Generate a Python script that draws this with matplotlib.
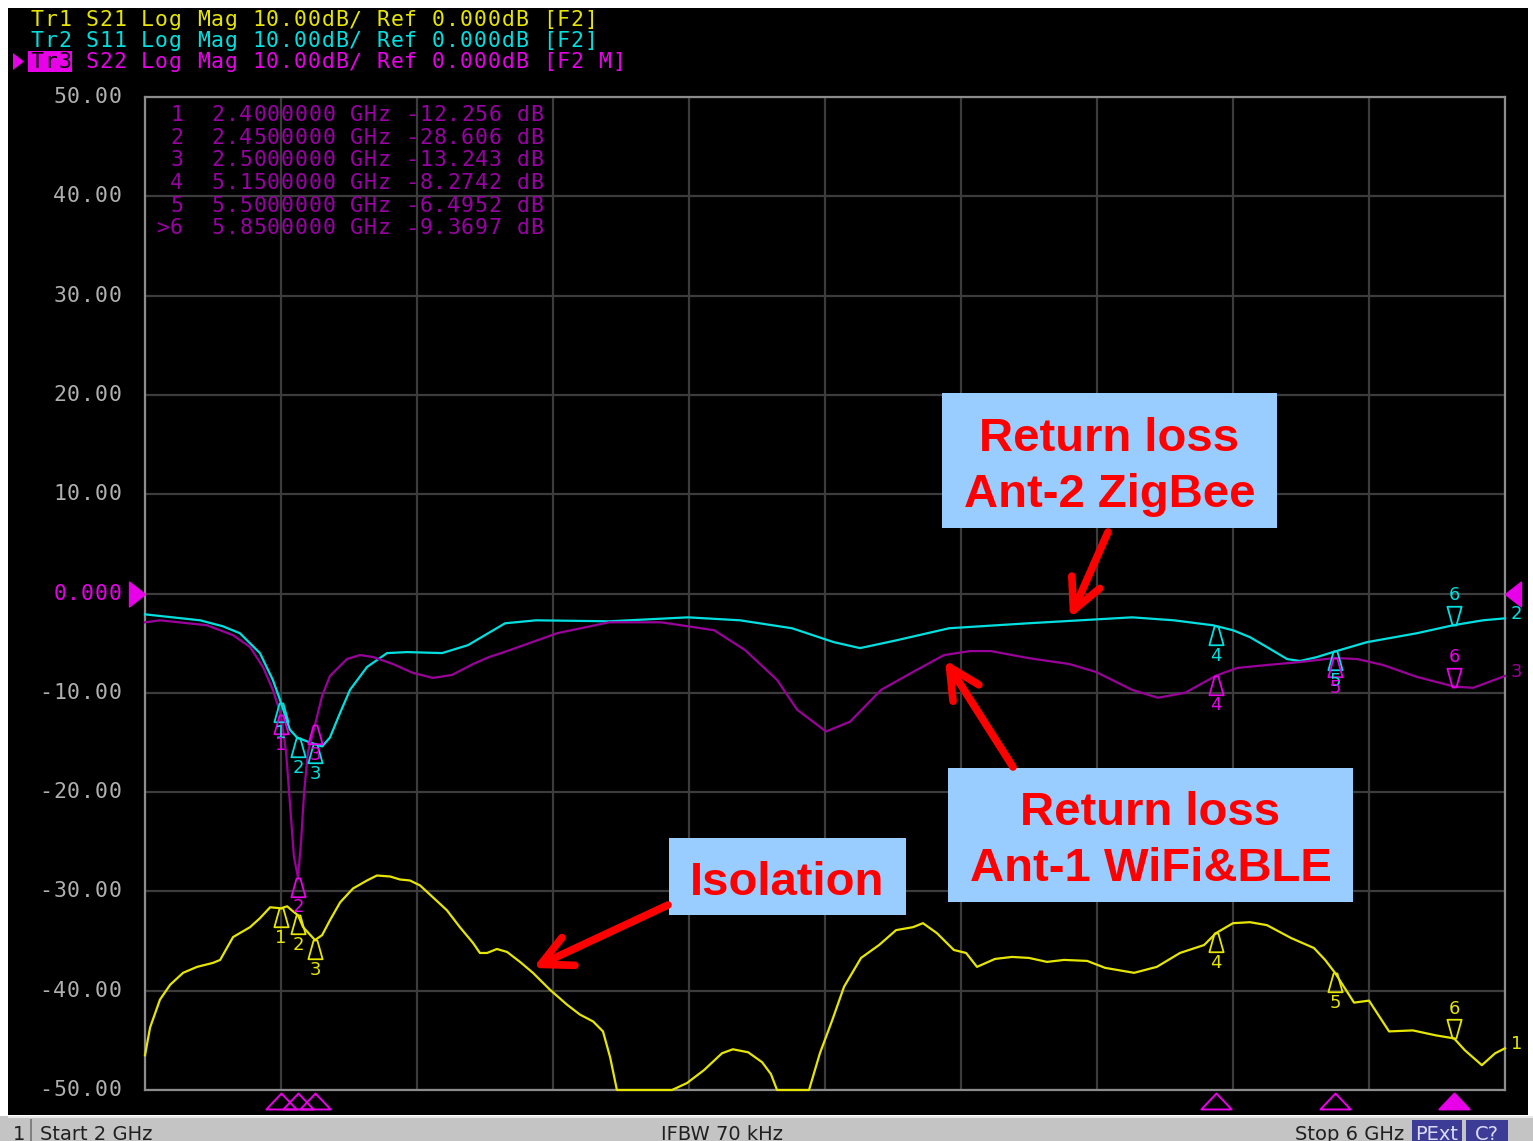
import numpy as np
import matplotlib
matplotlib.use("Agg")
import matplotlib.pyplot as plt
from matplotlib.path import Path
from matplotlib.patches import Rectangle, FancyArrowPatch, Polygon
from matplotlib.markers import MarkerStyle
import matplotlib.transforms as mtransforms

W, H = 1533, 1141

# ---------------- data ----------------
s11_freq = [2.000, 2.162, 2.229, 2.279, 2.338, 2.376, 2.397, 2.426, 2.447, 2.485, 2.521, 2.544,
            2.574, 2.603, 2.653, 2.712, 2.771, 2.874, 2.950, 3.059, 3.150, 3.365, 3.597, 3.750,
            3.903, 4.026, 4.103, 4.212, 4.365, 4.597, 4.750, 4.903, 5.026, 5.141, 5.200, 5.250,
            5.300, 5.359, 5.397, 5.447, 5.494, 5.594, 5.741, 5.847, 5.935, 6.000]
s11_db = [-2.1, -2.7, -3.3, -4.0, -6.0, -8.7, -10.7, -13.7, -14.5, -15.0, -15.4, -14.5,
          -12.0, -9.7, -7.4, -6.0, -5.9, -6.0, -5.2, -3.0, -2.7, -2.8, -2.4, -2.7,
          -3.5, -4.9, -5.5, -4.7, -3.5, -3.0, -2.7, -2.4, -2.7, -3.2, -3.7, -4.4,
          -5.4, -6.6, -6.8, -6.4, -5.9, -4.9, -4.0, -3.2, -2.7, -2.5]

s22_freq = [2.000, 2.044, 2.182, 2.259, 2.309, 2.347, 2.376, 2.400, 2.415, 2.426, 2.438, 2.450,
            2.459, 2.468, 2.479, 2.500, 2.521, 2.544, 2.594, 2.632, 2.671, 2.729, 2.788, 2.847,
            2.903, 2.965, 3.012, 3.065, 3.212, 3.365, 3.518, 3.674, 3.765, 3.859, 3.918, 4.003,
            4.074, 4.165, 4.259, 4.350, 4.426, 4.488, 4.597, 4.718, 4.797, 4.903, 4.979, 5.059,
            5.150, 5.212, 5.300, 5.397, 5.500, 5.565, 5.641, 5.741, 5.850, 5.906, 6.000]
s22_db = [-2.9, -2.7, -3.2, -4.2, -5.4, -7.4, -9.7, -12.256, -16.0, -21.0, -26.5, -28.606,
          -25.0, -20.0, -16.0, -13.243, -10.3, -8.3, -6.6, -6.2, -6.4, -7.1, -8.0, -8.5,
          -8.2, -7.1, -6.4, -5.8, -4.0, -2.9, -2.9, -3.7, -5.7, -8.7, -11.7, -13.9,
          -12.9, -9.7, -7.9, -6.2, -5.8, -5.8, -6.5, -7.1, -7.9, -9.7, -10.5, -10.0,
          -8.2742, -7.5, -7.2, -6.9, -6.4952, -6.6, -7.2, -8.4, -9.3697, -9.5, -8.3]

s21_freq = [2.000, 2.015, 2.044, 2.074, 2.112, 2.153, 2.200, 2.221, 2.259, 2.309, 2.338, 2.368,
            2.400, 2.418, 2.435, 2.450, 2.465, 2.500, 2.521, 2.544, 2.574, 2.612, 2.653, 2.682,
            2.721, 2.750, 2.779, 2.809, 2.847, 2.888, 2.926, 2.965, 2.985, 3.006, 3.035, 3.065,
            3.103, 3.141, 3.191, 3.241, 3.279, 3.318, 3.347, 3.368, 3.388, 3.550, 3.594, 3.644,
            3.697, 3.729, 3.774, 3.815, 3.841, 3.859, 3.953, 3.985, 4.021, 4.056, 4.106, 4.159,
            4.209, 4.259, 4.288, 4.329, 4.379, 4.415, 4.447, 4.500, 4.550, 4.600, 4.653, 4.703,
            4.771, 4.824, 4.909, 4.976, 5.044, 5.115, 5.150, 5.200, 5.250, 5.300, 5.371, 5.438,
            5.471, 5.500, 5.556, 5.600, 5.659, 5.729, 5.797, 5.850, 5.882, 5.932, 5.971, 6.000]
s21_db = [-46.5, -43.7, -40.9, -39.4, -38.2, -37.6, -37.2, -36.9, -34.6, -33.6, -32.7, -31.6,
          -31.7, -31.5, -32.0, -32.4, -33.6, -34.9, -34.4, -32.9, -31.1, -29.7, -28.9, -28.4,
          -28.5, -28.8, -28.9, -29.4, -30.6, -31.9, -33.6, -35.2, -36.2, -36.2, -35.8, -36.1,
          -37.1, -38.2, -39.9, -41.4, -42.4, -43.1, -44.1, -46.7, -50.0, -50.0, -49.3, -48.0,
          -46.3, -45.9, -46.2, -47.2, -48.4, -50.0, -50.0, -46.3, -43.0, -39.6, -36.7, -35.4,
          -33.9, -33.6, -33.2, -34.2, -35.9, -36.2, -37.6, -36.8, -36.6, -36.7, -37.1, -36.9,
          -37.0, -37.7, -38.2, -37.6, -36.2, -35.4, -34.2, -33.2, -33.1, -33.4, -34.7, -35.7,
          -36.9, -38.2, -41.2, -41.0, -44.1, -44.0, -44.5, -44.8, -46.0, -47.5, -46.3, -45.8]

marker_freq = [2.40, 2.45, 2.50, 5.15, 5.50, 5.85]
marker_labels = ["1", "2", "3", "4", "5", "6"]
active_marker = 5  # index of marker 6

table_rows = [" 1  2.4000000 GHz -12.256 dB",
              " 2  2.4500000 GHz -28.606 dB",
              " 3  2.5000000 GHz -13.243 dB",
              " 4  5.1500000 GHz -8.2742 dB",
              " 5  5.5000000 GHz -6.4952 dB",
              ">6  5.8500000 GHz -9.3697 dB"]

header_lines = ["Tr1 S21 Log Mag 10.00dB/ Ref 0.000dB [F2]",
                "Tr2 S11 Log Mag 10.00dB/ Ref 0.000dB [F2]",
                "Tr3 S22 Log Mag 10.00dB/ Ref 0.000dB [F2 M]"]

ytick_vals = [50, 40, 30, 20, 10, 0, -10, -20, -30, -40, -50]
ytick_labels = ["50.00", "40.00", "30.00", "20.00", "10.00", "0.000",
                "-10.00", "-20.00", "-30.00", "-40.00", "-50.00"]

status_texts = ["Start 2 GHz", "IFBW 70 kHz", "Stop 6 GHz"]

# ---------------- colours ----------------
YEL = "#e6e600"
CYA = "#00e0e0"
PUR = "#9a009a"
MAG = "#e800e8"
TABLE = "#9a00a6"
GRAY = "#b0b0b0"

fig = plt.figure(figsize=(W / 100, H / 100), dpi=100, facecolor="white")


def fx(px):
    return px / W


def fy(py):
    return 1 - py / H


# black instrument panel
fig.add_artist(Rectangle((fx(8), fy(1115)), fx(1528) - fx(8), fy(8) - fy(1115),
                         transform=fig.transFigure, facecolor="black", edgecolor="none",
                         zorder=-10))

ax = fig.add_axes([fx(145), fy(1090), fx(1505) - fx(145), fy(97) - fy(1090)])
ax.set_facecolor("black")
ax.set_xlim(2, 6)
ax.set_ylim(-50, 50)
ax.set_xticks(np.linspace(2, 6, 11))
ax.set_yticks(ytick_vals)
ax.set_xticklabels([])
ax.set_yticklabels([])
ax.tick_params(length=0)
ax.grid(True, color="#3c3c3c", lw=1.6)
for sp in ax.spines.values():
    sp.set_color("#8c8c8c")
    sp.set_linewidth(1.6)

# traces
ax.plot(s21_freq, s21_db, color=YEL, lw=1.6, clip_on=False, zorder=3)
ax.plot(s11_freq, s11_db, color=CYA, lw=1.6, clip_on=False, zorder=3)
ax.plot(s22_freq, s22_db, color=PUR, lw=1.6, clip_on=False, zorder=3)

up_tri = MarkerStyle(Path([(-0.1, 0), (0.1, 0), (0.38, -1), (-0.38, -1), (-0.1, 0)],
                          [Path.MOVETO, Path.LINETO, Path.LINETO, Path.LINETO, Path.CLOSEPOLY]))
dn_tri = MarkerStyle(Path([(-0.38, 1), (0.38, 1), (0.1, 0), (-0.1, 0), (-0.38, 1)],
                          [Path.MOVETO, Path.LINETO, Path.LINETO, Path.LINETO, Path.CLOSEPOLY]))

traces = [(s21_freq, s21_db, YEL, YEL), (s11_freq, s11_db, CYA, CYA), (s22_freq, s22_db, MAG, MAG)]
for fr, db, mcol, tcol in traces:
    vals = np.interp(marker_freq, fr, db)
    for i, (f, v) in enumerate(zip(marker_freq, vals)):
        if i == active_marker:
            ax.plot([f], [v], marker=dn_tri, ms=27, mfc="none", mec=mcol, mew=1.3,
                    clip_on=False, zorder=5)
            ax.annotate(marker_labels[i], (f, v), xytext=(0, 15), textcoords="offset points",
                        ha="center", va="bottom", color=tcol, fontsize=13,
                        family="DejaVu Sans", annotation_clip=False, zorder=6)
        else:
            ax.plot([f], [v], marker=up_tri, ms=27, mfc="none", mec=mcol, mew=1.3,
                    clip_on=False, zorder=5)
            ax.annotate(marker_labels[i], (f, v), xytext=(0, -15), textcoords="offset points",
                        ha="center", va="top", color=tcol, fontsize=13,
                        family="DejaVu Sans", annotation_clip=False, zorder=6)

# stimulus markers under the grid
blend = mtransforms.blended_transform_factory(ax.transData, ax.transAxes)
stim = MarkerStyle(Path([(0, 0), (0.95, -1), (-0.95, -1), (0, 0)],
                        [Path.MOVETO, Path.LINETO, Path.LINETO, Path.CLOSEPOLY]))
for i, f in enumerate(marker_freq):
    filled = i == active_marker
    ax.plot([f], [-3 / 993], marker=stim, ms=23, transform=blend,
            mfc=MAG if filled else "none", mec=MAG, mew=1.4, clip_on=False, zorder=5)

# reference level triangles
left_ref = MarkerStyle(Path([(0, 0), (-1, 0.78), (-1, -0.78), (0, 0)],
                            [Path.MOVETO, Path.LINETO, Path.LINETO, Path.CLOSEPOLY]))
right_ref = MarkerStyle(Path([(0, 0), (1, 0.78), (1, -0.78), (0, 0)],
                             [Path.MOVETO, Path.LINETO, Path.LINETO, Path.CLOSEPOLY]))
ax.plot([2.0], [0], marker=left_ref, ms=23, mfc=MAG, mec=MAG, clip_on=False, zorder=6)
ax.plot([6.0], [0], marker=right_ref, ms=23, mfc=MAG, mec=MAG, clip_on=False, zorder=6)

# trace end labels
for db, col, lab in [(s11_db, CYA, "2"), (s22_db, PUR, "3"), (s21_db, YEL, "1")]:
    ax.annotate(lab, (6.0, db[-1]), xytext=(4, 3), textcoords="offset points",
                ha="left", va="center", color=col, fontsize=13, family="DejaVu Sans",
                annotation_clip=False)


# monospace text helper (fixed pitch)
def mono(x_px, base_px, s, color, size=15.5, pitch=13.85, align="left"):
    if align == "right":
        x_px = x_px - len(s) * pitch
    for i, ch in enumerate(s):
        if ch == " ":
            continue
        fig.text(fx(x_px + i * pitch + pitch / 2), fy(base_px), ch, ha="center",
                 va="baseline", color=color, fontsize=size, family="DejaVu Sans Mono",
                 zorder=8)


# header
hcols = [YEL, CYA, MAG]
hbase = [26, 47, 68]
fig.add_artist(Rectangle((fx(28), fy(72)), fx(72) - fx(28), fy(51) - fy(72),
                         transform=fig.transFigure, facecolor=MAG, edgecolor="none", zorder=7))
fig.add_artist(Polygon([(fx(13), fy(53)), (fx(24), fy(61.5)), (fx(13), fy(70))], closed=True,
                       transform=fig.transFigure, facecolor=MAG, edgecolor="none", zorder=7))
for line, col, b in zip(header_lines, hcols, hbase):
    if line.startswith("Tr3"):
        mono(30, b, "Tr3", "black")
        mono(30, b, "   " + line[3:], col)
    else:
        mono(30, b, line, col)

# marker table
for k, row in enumerate(table_rows):
    mono(155.8, 121 + k * 22.7, row, TABLE)

# y tick labels
for v, lab in zip(ytick_vals, ytick_labels):
    py = 97 + (50 - v) * 9.93
    mono(122, py + 6, lab, MAG if v == 0 else GRAY, align="right")

# annotation boxes
RED = "#ff0000"
BOXC = "#99ccff"
boxes = [((942, 393, 1277, 528), ["Return loss", "Ant-2 ZigBee"], [451, 507]),
         ((948, 768, 1353, 902), ["Return loss", "Ant-1 WiFi&BLE"], [825, 881]),
         ((669, 838, 906, 915), ["Isolation"], [895])]
for (x0, y0, x1, y1), lines, bases in boxes:
    fig.add_artist(Rectangle((fx(x0), fy(y1)), fx(x1) - fx(x0), fy(y0) - fy(y1),
                             transform=fig.transFigure, facecolor=BOXC, edgecolor="none",
                             zorder=9))
    for ln, b in zip(lines, bases):
        fig.text(fx((x0 + x1) / 2), fy(b), ln, ha="center", va="baseline", color=RED,
                 fontsize=34, fontweight="bold", family="Liberation Sans", zorder=10)

arrows = [((1108, 532), (1070, 618)), ((1013, 767), (945, 660)), ((668, 905), (533, 968))]
for (xa, ya), (xb, yb) in arrows:
    fig.add_artist(FancyArrowPatch((fx(xa), fy(ya)), (fx(xb), fy(yb)),
                                   transform=fig.transFigure,
                                   arrowstyle="->,head_length=1.1,head_width=0.55",
                                   mutation_scale=20, lw=5.5, color=RED,
                                   shrinkA=0, shrinkB=0, zorder=9))

# status bar
fig.add_artist(Rectangle((0, 0), 1, fy(1116), transform=fig.transFigure,
                         facecolor="#c4c4c4", edgecolor="none", zorder=7))
fig.add_artist(Rectangle((fx(8), fy(1118)), fx(1533) - fx(8), fy(1116) - fy(1118),
                         transform=fig.transFigure, facecolor="#e8e8e8", edgecolor="none",
                         zorder=7))
fig.add_artist(Rectangle((fx(30), 0), fx(2), fy(1119), transform=fig.transFigure,
                         facecolor="#808080", edgecolor="none", zorder=8))
sb = dict(va="baseline", color="#202020", fontsize=14, family="DejaVu Sans", zorder=9)
fig.text(fx(13), fy(1140), "1", ha="left", **sb)
fig.text(fx(40), fy(1140), status_texts[0], ha="left", **sb)
fig.text(fx(722), fy(1140), status_texts[1], ha="center", **sb)
fig.text(fx(1404), fy(1140), status_texts[2], ha="right", **sb)
for (x0, x1, t) in [(1412, 1462, "PExt"), (1466, 1508, "C?")]:
    fig.add_artist(Rectangle((fx(x0), 0), fx(x1) - fx(x0), fy(1120), transform=fig.transFigure,
                             facecolor="#3c3c96", edgecolor="none", zorder=8))
    fig.text(fx((x0 + x1) / 2), fy(1140), t, ha="center", va="baseline", color="#dcdcff",
             fontsize=14, family="DejaVu Sans", zorder=9)

fig.savefig("out.png", dpi=100, facecolor=fig.get_facecolor())
